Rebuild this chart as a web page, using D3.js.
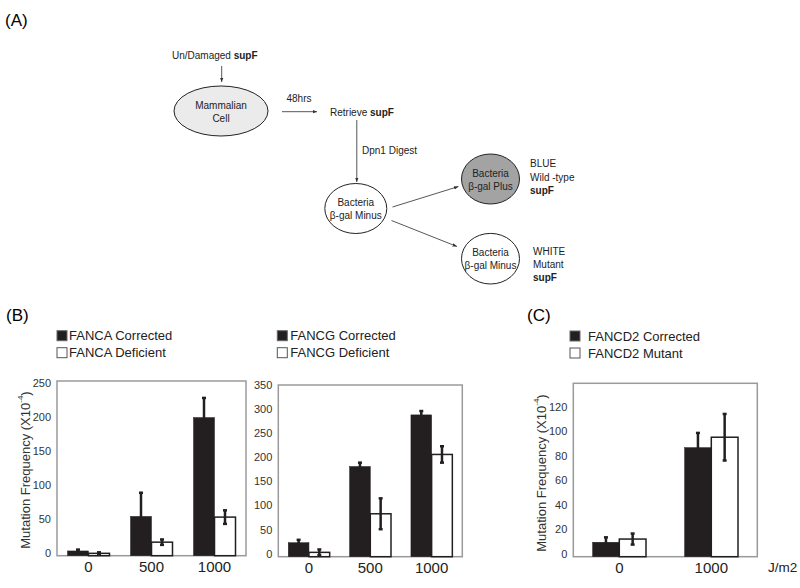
<!DOCTYPE html>
<html>
<head>
<meta charset="utf-8">
<script src="https://cdn.jsdelivr.net/npm/d3@7"></script>
<style>
  body { margin: 0; background: #fff; }
  svg { font-family: "Liberation Sans", Arial, sans-serif; }
</style>
</head>
<body>
<svg id="fig" width="800" height="588"></svg>
<script>
var width = 800;
var height = 588;

// ---- data ----
let doses = ["0", "500", "1000"];
let dosesC = ["0", "1000"];

let fancaCorrected = [7, 58, 204];
let fancaCorrectedErr = [2, 35, 29];
let fancaDeficient = [3.5, 20, 57];
let fancaDeficientErr = [1.5, 4, 10];

let fancgCorrected = [29, 187, 294];
let fancgCorrectedErr = [6, 8, 8];
let fancgDeficient = [9, 89, 212];
let fancgDeficientErr = [6, 32, 17];

let fancd2Corrected = [11.8, 89];
let fancd2CorrectedErr = [4, 12];
let fancd2Mutant = [14.4, 97.5];
let fancd2MutantErr = [4.5, 19];

let ticksB1 = [0, 50, 100, 150, 200, 250];
let ticksB2 = [0, 50, 100, 150, 200, 250, 300, 350];
let ticksC = [0, 20, 40, 60, 80, 100, 120];

var svg = d3.select("#fig");
let ink = "#231f20";

// panel labels
svg.append("text").attr("x", 5).attr("y", 26).attr("font-size", 17).text("(A)");
svg.append("text").attr("x", 6).attr("y", 321).attr("font-size", 17).text("(B)");
svg.append("text").attr("x", 527).attr("y", 321).attr("font-size", 17).text("(C)");

// ---- diagram (A) ----
let diag = svg.append("g").attr("font-size", 10).attr("fill", "#222");
svg.append("defs").append("marker")
    .attr("id", "head")
    .attr("viewBox", "0 0 10 10")
    .attr("refX", 10).attr("refY", 5)
    .attr("markerWidth", 5).attr("markerHeight", 5)
    .attr("orient", "auto")
    .append("path").attr("d", "M0,1L10,5L0,9Z").attr("fill", "#333");

function arrow(x1, y1, x2, y2){
    diag.append("line")
        .attr("x1", x1).attr("y1", y1).attr("x2", x2).attr("y2", y2)
        .attr("stroke", "#444").attr("stroke-width", 0.9)
        .attr("marker-end", "url(#head)");
}
function node(cx, cy, rx, ry, fill, lines){
    diag.append("ellipse")
        .attr("cx", cx).attr("cy", cy).attr("rx", rx).attr("ry", ry)
        .attr("fill", fill).attr("stroke", "#222").attr("stroke-width", 1);
    lines.forEach((t, i) => {
        diag.append("text")
            .attr("x", cx).attr("y", cy - 6 + i * 13)
            .attr("text-anchor", "middle").attr("dominant-baseline", "central")
            .text(t);
    });
}
function label(x, y, parts){
    let t = diag.append("text").attr("x", x).attr("y", y).attr("dominant-baseline", "central");
    parts.forEach(p => t.append("tspan").attr("font-weight", p[1] ? "bold" : null).text(p[0]));
}

label(172, 55, [["Un/Damaged  "], ["supF", true]]);
arrow(221.7, 66, 221.7, 82);
node(221, 111, 47, 25, "#ebebeb", ["Mammalian", "Cell"]);
arrow(282, 111.7, 317, 111.7);
diag.append("text").attr("x", 299).attr("y", 98).attr("text-anchor", "middle")
    .attr("dominant-baseline", "central").text("48hrs");
label(330, 111.7, [["Retrieve  "], ["supF", true]]);
arrow(356.8, 120, 356.8, 182);
label(362, 150, [["Dpn1 Digest"]]);
node(355.8, 208.5, 31, 25, "#fff", ["Bacteria", "β-gal Minus"]);
arrow(392.5, 207, 458.5, 186.5);
arrow(391.5, 220.5, 457, 246.5);
node(490.5, 179, 29, 25, "#a3a3a3", ["Bacteria", "β-gal Plus"]);
node(490.5, 258.7, 29, 25.3, "#fff", ["Bacteria", "β-gal Minus"]);
label(530, 163.3, [["BLUE"]]);
label(530, 176.7, [["Wild -type"]]);
label(530, 190, [["supF", true]]);
label(533, 250.7, [["WHITE"]]);
label(533, 264, [["Mutant"]]);
label(533, 276.7, [["supF", true]]);

// ---- bar panels ----
function legend(x, y, gap, names){
    let g = svg.append("g").attr("font-size", 13).attr("fill", "#222");
    names.forEach((n, i) => {
        g.append("rect")
            .attr("x", x).attr("y", y + i * 17 - 5).attr("width", 10).attr("height", 10)
            .attr("fill", i === 0 ? ink : "#fff")
            .attr("stroke", i === 0 ? "#666" : "#555").attr("stroke-width", 1);
        g.append("text")
            .attr("x", x + 10 + gap).attr("y", y + i * 17)
            .attr("dominant-baseline", "central").text(n);
    });
}

function yTitle(x, y){
    let t = svg.append("text")
        .attr("transform", `translate(${x},${y}) rotate(-90)`)
        .attr("text-anchor", "middle").attr("dominant-baseline", "central")
        .attr("font-size", 13).attr("fill", "#333");
    t.append("tspan").text("Mutation Frequency (X10");
    t.append("tspan").attr("font-size", 8).attr("dy", -5).text("-4");
    t.append("tspan").attr("dy", 5).text(")");
}

function panel(p){
    let g = svg.append("g");
    let y = d3.scaleLinear().domain([0, p.max]).range([p.bottom, p.top]);
    let x = d3.scalePoint().domain(p.cats).range([p.left, p.right]).padding(0.5);
    let inner = d3.scaleBand().domain([0, 1]).range([-p.bw, p.bw]);

    g.append("rect")
        .attr("x", p.left).attr("y", p.top)
        .attr("width", p.right - p.left).attr("height", p.bottom - p.top)
        .attr("fill", "none").attr("stroke", "#9a9a9a").attr("stroke-width", 1.5);

    p.series.forEach((s, si) => {
        let sg = g.append("g");
        sg.selectAll("rect")
            .data(p.cats)
            .join("rect")
            .attr("x", d => x(d) + inner(si))
            .attr("y", (d, i) => y(s.values[i]))
            .attr("width", inner.bandwidth())
            .attr("height", (d, i) => y(0) - y(s.values[i]))
            .attr("fill", si === 0 ? ink : "#fff")
            .attr("stroke", ink).attr("stroke-width", si === 0 ? 0.5 : 1.5);
        let eg = sg.selectAll("g.err")
            .data(p.cats)
            .join("g").attr("class", "err")
            .attr("stroke", ink);
        let cx = d => x(d) + inner(si) + inner.bandwidth() / 2;
        eg.append("line")
            .attr("x1", cx).attr("x2", cx)
            .attr("y1", (d, i) => y(s.values[i] + s.err[i]))
            .attr("y2", (d, i) => y(Math.max(0, s.values[i] - s.err[i])))
            .attr("stroke-width", 2.5);
        [1, -1].forEach(sign => {
            eg.append("line")
                .attr("x1", d => cx(d) - 2).attr("x2", d => cx(d) + 2)
                .attr("y1", (d, i) => y(Math.max(0, s.values[i] + sign * s.err[i])))
                .attr("y2", (d, i) => y(Math.max(0, s.values[i] + sign * s.err[i])))
                .attr("stroke-width", 2.5);
        });
    });

    g.append("g").attr("font-size", 11).attr("fill", "#333")
        .selectAll("text")
        .data(p.ticks)
        .join("text")
        .attr("x", p.left - 6)
        .attr("y", d => y(d) - 3)
        .attr("text-anchor", "end").attr("dominant-baseline", "central")
        .text(d => d);

    g.append("g").attr("font-size", 15).attr("fill", "#222")
        .selectAll("text")
        .data(p.cats)
        .join("text")
        .attr("x", d => x(d))
        .attr("y", p.bottom + 11)
        .attr("text-anchor", "middle").attr("dominant-baseline", "central")
        .text(d => d);
}

panel({
    left: 57, right: 246, top: 381, bottom: 555.7, max: 258, bw: 21,
    cats: doses, ticks: ticksB1,
    series: [{values: fancaCorrected, err: fancaCorrectedErr},
             {values: fancaDeficient, err: fancaDeficientErr}]
});
panel({
    left: 278.3, right: 462.3, top: 385, bottom: 556.7, max: 356, bw: 20.7,
    cats: doses, ticks: ticksB2,
    series: [{values: fancgCorrected, err: fancgCorrectedErr},
             {values: fancgDeficient, err: fancgDeficientErr}]
});
panel({
    left: 573.3, right: 757.3, top: 383.3, bottom: 556.7, max: 141.5, bw: 26.7,
    cats: dosesC, ticks: ticksC,
    series: [{values: fancd2Corrected, err: fancd2CorrectedErr},
             {values: fancd2Mutant, err: fancd2MutantErr}]
});

svg.append("text").attr("x", 768).attr("y", 567.5).attr("font-size", 13.5).attr("fill", "#222")
    .attr("dominant-baseline", "central").text("J/m2");

legend(57, 335.7, 2, ["FANCA Corrected", "FANCA Deficient"]);
legend(277.3, 335.7, 3, ["FANCG Corrected", "FANCG Deficient"]);
legend(570, 336, 8, ["FANCD2 Corrected", "FANCD2 Mutant"]);

yTitle(25, 470);
yTitle(540.7, 473);
</script>
</body>
</html>
